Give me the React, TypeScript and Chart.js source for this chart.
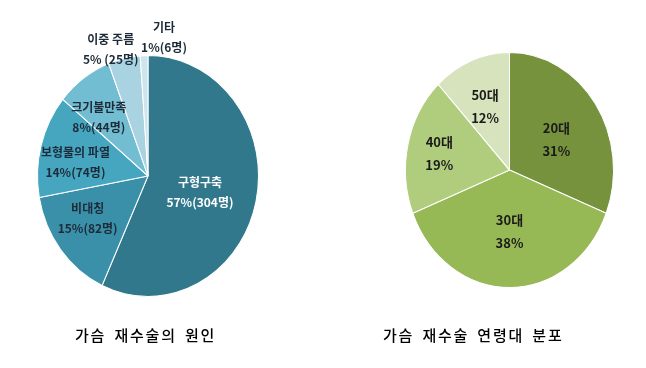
import React, { useEffect, useRef } from "react";
import { Chart, registerables } from "chart.js";
Chart.register(...registerables);

// ---- data ----
const causeLabels = ["구형구축", "비대칭", "보형물의 파열", "크기불만족", "이중 주름", "기타"];
const causeCounts = [304, 82, 74, 44, 25, 6];
const causeValueText = ["57%(304명)", "15%(82명)", "14%(74명)", "8%(44명)", "5% (25명)", "1%(6명)"];
const causeColors = ["#31788c", "#3a90a8", "#46a6c0", "#72bdd1", "#a9d3e1", "#cfe5ee"];

const ageLabels = ["20대", "30대", "40대", "50대"];
const agePercents = [31, 38, 19, 12];
const ageColors = ["#76923c", "#97b955", "#b0cc7d", "#d6e3bc"];

const causeTitle = "가슴 재수술의 원인";
const ageTitle = "가슴 재수술 연령대 분포";

// label placement: [radius fraction, angle shift in degrees]
const causePlace = [[0.49, 4], [0.65, 5], [0.666, -5], [0.66, -6.8], [1.1, -5.4], [1.16, 9.2]];
const agePlace = [[0.52, 4.3], [0.52, 0], [0.69, -0.7], [0.587, -2]];

type LabelCfg = {
  ky: number;
  place: number[][];
  lines: string[][];
  colors: string[];
  font: string;
  lineHeight: number;
};

function makeLabelPlugin(cfg: LabelCfg) {
  return {
    id: "ellipseLabels",
    beforeDatasetsDraw(chart: any) {
      const meta = chart.getDatasetMeta(0);
      const arc = meta.data[0];
      const ctx = chart.ctx;
      ctx.save();
      if (!arc) return;
      const { x, y } = arc.getProps(["x", "y"], true);
      ctx.translate(x, y);
      ctx.scale(1, cfg.ky);
      ctx.translate(-x, -y);
    },
    afterDatasetsDraw(chart: any) {
      const ctx = chart.ctx;
      ctx.restore();
      const meta = chart.getDatasetMeta(0);
      meta.data.forEach((el: any, i: number) => {
        const p = el.getProps(["x", "y", "startAngle", "endAngle", "outerRadius"], true);
        const pl = cfg.place[i];
        const a = (p.startAngle + p.endAngle) / 2 + (pl[1] * Math.PI) / 180;
        const r = p.outerRadius * pl[0];
        const cx = p.x + Math.cos(a) * r;
        const cy = p.y + Math.sin(a) * r * cfg.ky;
        const lines = cfg.lines[i];
        ctx.save();
        ctx.font = cfg.font;
        ctx.fillStyle = cfg.colors[i];
        ctx.textAlign = "center";
        ctx.textBaseline = "middle";
        lines.forEach((t, j) => {
          ctx.fillText(t, cx, cy + (j - (lines.length - 1) / 2) * cfg.lineHeight);
        });
        ctx.restore();
      });
    },
  };
}

const W = 646;
const H = 368;

function PieCanvas(props: {
  labels: string[];
  values: number[];
  colors: string[];
  padding: { left: number; right: number; top: number; bottom: number };
  label: LabelCfg;
}) {
  const ref = useRef<HTMLCanvasElement>(null);
  useEffect(() => {
    if (!ref.current) return;
    const chart = new Chart(ref.current, {
      type: "pie",
      data: {
        labels: props.labels,
        datasets: [
          {
            data: props.values,
            backgroundColor: props.colors,
            borderColor: "#ffffff",
            borderWidth: 1,
          },
        ],
      },
      options: {
        responsive: false,
        animation: false,
        devicePixelRatio: 1,
        events: [],
        layout: { padding: props.padding },
        plugins: {
          legend: { display: false },
          tooltip: { enabled: false },
          title: { display: false },
        },
      },
      plugins: [makeLabelPlugin(props.label)],
    } as any);
    return () => chart.destroy();
  }, []);
  return (
    <canvas
      ref={ref}
      width={W}
      height={H}
      style={{ position: "absolute", left: 0, top: 0, width: W, height: H }}
    />
  );
}

const titleStyle: React.CSSProperties = {
  position: "absolute",
  top: 324,
  fontFamily: "'Noto Sans CJK KR', sans-serif",
  fontSize: 15,
  fontWeight: 500,
  letterSpacing: 1.8,
  wordSpacing: 3,
  color: "#000",
  lineHeight: "22px",
  whiteSpace: "nowrap",
};

export default function App() {
  const causeDark = "#1d2b38";
  return (
    <div
      style={{
        position: "absolute",
        left: 0,
        top: 0,
        width: W,
        height: H,
        background: "#ffffff",
        overflow: "hidden",
      }}
    >
      <PieCanvas
        labels={causeLabels}
        values={causeCounts}
        colors={causeColors}
        padding={{ left: 37, right: 387, top: 65, bottom: 81 }}
        label={{
          ky: 1.09,
          place: causePlace,
          lines: causeLabels.map((l, i) => [l, causeValueText[i]]),
          colors: causeLabels.map((_, i) => (i === 0 ? "#ffffff" : causeDark)),
          font: "bold 12px 'Noto Sans CJK KR', sans-serif",
          lineHeight: 20,
        }}
      />
      <PieCanvas
        labels={ageLabels}
        values={agePercents}
        colors={ageColors}
        padding={{ left: 405, right: 32, top: 65.5, bottom: 93.5 }}
        label={{
          ky: 1.13,
          place: agePlace,
          lines: ageLabels.map((l, i) => [l, `${agePercents[i]}%`]),
          colors: ageLabels.map(() => "#1a1a1a"),
          font: "bold 13px 'Noto Sans CJK KR', sans-serif",
          lineHeight: 23,
        }}
      />
      <div style={{ ...titleStyle, left: 75 }}>{causeTitle}</div>
      <div style={{ ...titleStyle, left: 383 }}>{ageTitle}</div>
    </div>
  );
}
